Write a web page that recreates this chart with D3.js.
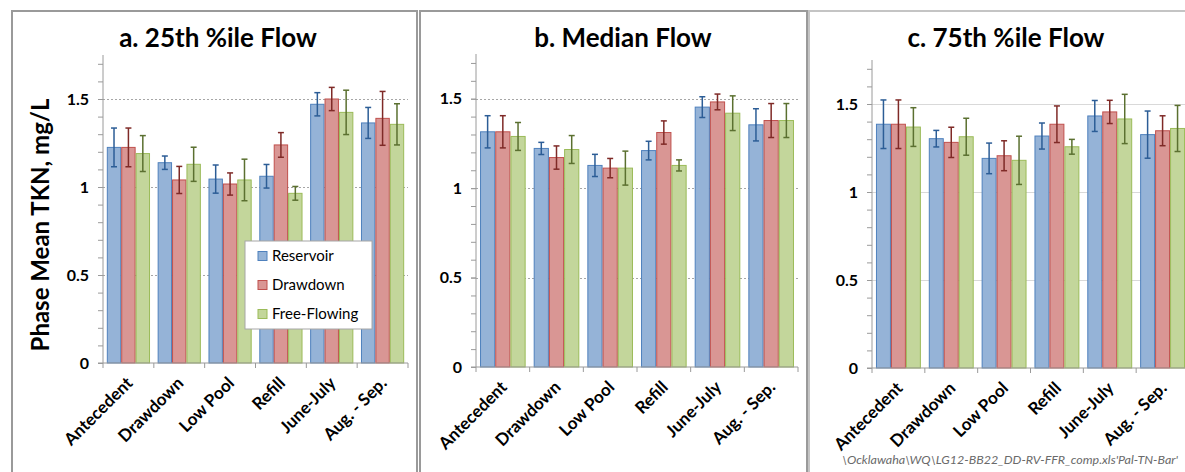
<!DOCTYPE html>
<html>
<head>
<meta charset="utf-8">
<script src="https://cdn.jsdelivr.net/npm/d3@7"></script>
<style>
  body { margin: 0; background: #fff; }
  svg { display: block; font-family: Lato, "Open Sans", sans-serif; }
</style>
</head>
<body>
<div id="d3-container"></div>
<script>
// phases on the x axis and the three flow series
const phases = ["Antecedent", "Drawdown", "Low Pool", "Refill", "June-July", "Aug. - Sep."];
const series = ["Reservoir", "Drawdown", "Free-Flowing"];

// a. 25th %ile flow - means and error half widths
const p25Reservoir = [1.225, 1.138, 1.045, 1.061, 1.470, 1.364];
const p25Drawdown = [1.225, 1.040, 1.017, 1.239, 1.500, 1.390];
const p25Free = [1.190, 1.129, 1.040, 0.964, 1.424, 1.356];
const p25ErrReservoir = [0.110, 0.038, 0.080, 0.067, 0.066, 0.088];
const p25ErrDrawdown = [0.110, 0.077, 0.063, 0.070, 0.066, 0.153];
const p25ErrFree = [0.102, 0.097, 0.118, 0.039, 0.126, 0.117];

// b. median flow
const medReservoir = [1.315, 1.222, 1.127, 1.210, 1.453, 1.354];
const medDrawdown = [1.315, 1.171, 1.112, 1.311, 1.482, 1.378];
const medFree = [1.289, 1.216, 1.112, 1.127, 1.419, 1.378];
const medErrReservoir = [0.090, 0.034, 0.062, 0.052, 0.058, 0.090];
const medErrDrawdown = [0.090, 0.065, 0.054, 0.065, 0.044, 0.095];
const medErrFree = [0.078, 0.078, 0.095, 0.031, 0.097, 0.095];

// c. 75th %ile flow
const p75Reservoir = [1.385, 1.303, 1.191, 1.318, 1.432, 1.326];
const p75Drawdown = [1.385, 1.282, 1.206, 1.385, 1.455, 1.348];
const p75Free = [1.369, 1.314, 1.180, 1.257, 1.415, 1.361];
const p75ErrReservoir = [0.138, 0.047, 0.087, 0.074, 0.088, 0.134];
const p75ErrDrawdown = [0.138, 0.086, 0.085, 0.104, 0.066, 0.085];
const p75ErrFree = [0.110, 0.105, 0.137, 0.042, 0.140, 0.131];

const yTicks = [0, 0.5, 1, 1.5];
const yMax = 1.75;

const fills = ["#95b3d7", "#d99694", "#c3d69b"];
const strokes = ["#4f81bd", "#c0504d", "#9bbb59"];
const errColors = ["#2c5d96", "#7f2a27", "#5b7030"];

const width = 1185;
const height = 472;

const panels = [
  { title: "a. 25th %ile Flow", box: [12, 11, 417], plot: { left: 103, right: 408, top: 55, bottom: 363 }, titleX: 218,
    values: [p25Reservoir, p25Drawdown, p25Free], errs: [p25ErrReservoir, p25ErrDrawdown, p25ErrFree], dotted: true, border: "#9a9a9a" },
  { title: "b. Median Flow", box: [420, 11, 807], plot: { left: 476, right: 798, top: 54, bottom: 367 }, titleX: 623,
    values: [medReservoir, medDrawdown, medFree], errs: [medErrReservoir, medErrDrawdown, medErrFree], dotted: true, border: "#9a9a9a" },
  { title: "c. 75th %ile Flow", box: [809, 11, 1200], plot: { left: 872, right: 1189, top: 60, bottom: 368 }, titleX: 1006,
    values: [p75Reservoir, p75Drawdown, p75Free], errs: [p75ErrReservoir, p75ErrDrawdown, p75ErrFree], dotted: false, border: "#c4c4c4" }
];

const svg = d3.select("#d3-container")
  .append("svg")
  .attr("width", width)
  .attr("height", height);

panels.forEach(p => {
  const g = svg.append("g");

  // panel frame
  g.append("path")
    .attr("d", `M${p.box[0]},${height + 5}V${p.box[1]}H${p.box[2]}V${height + 5}`)
    .attr("fill", "none")
    .attr("stroke", p.border)
    .attr("stroke-width", 2);

  const x = d3.scaleBand()
    .domain(phases)
    .range([p.plot.left, p.plot.right])
    .paddingInner(0.15)
    .paddingOuter(0.075);

  const xs = d3.scaleBand()
    .domain(series)
    .range([0, x.bandwidth()]);

  const y = d3.scaleLinear()
    .domain([0, yMax])
    .range([p.plot.bottom, p.plot.top]);

  // gridlines
  g.append("g")
    .selectAll("line")
    .data(yTicks.filter(d => d > 0))
    .join("line")
    .attr("x1", p.plot.left)
    .attr("x2", p.plot.right)
    .attr("y1", d => Math.round(y(d)) + 0.5)
    .attr("y2", d => Math.round(y(d)) + 0.5)
    .attr("stroke", p.dotted ? "#a6a6a6" : "#d9d9d9")
    .attr("stroke-width", 1)
    .attr("stroke-dasharray", p.dotted ? "2,2" : null);

  // y axis, minor ticks every 0.1
  const yAxis = g.append("g")
    .attr("transform", `translate(${p.plot.left},0)`)
    .call(d3.axisLeft(y).tickValues(d3.range(1, 18).map(i => i / 10)).tickSize(5).tickFormat(""));
  yAxis.select(".domain").remove();
  yAxis.selectAll("line").attr("stroke", "#9a9a9a");

  const yAxisMajor = g.append("g")
    .attr("transform", `translate(${p.plot.left},0)`)
    .call(d3.axisLeft(y).tickValues(yTicks).tickSize(5).tickPadding(9).tickFormat(d => d));
  yAxisMajor.select(".domain").attr("d", `M0,${p.plot.top}V${p.plot.bottom}`).attr("stroke", "#9a9a9a");
  yAxisMajor.selectAll("line").attr("stroke", "#9a9a9a");
  yAxisMajor.selectAll("text")
    .attr("font-family", "Lato, sans-serif")
    .attr("font-size", 16)
    .attr("font-weight", "bold")
    .attr("fill", "#000");

  // bars
  const groups = g.append("g")
    .selectAll("g")
    .data(phases)
    .join("g")
    .attr("transform", d => `translate(${x(d)},0)`);

  series.forEach((s, si) => {
    groups.append("rect")
      .attr("x", xs(s) + 0.5)
      .attr("y", (d, i) => y(p.values[si][i]))
      .attr("width", xs.bandwidth() - 1)
      .attr("height", (d, i) => y(0) - y(p.values[si][i]))
      .attr("fill", fills[si])
      .attr("stroke", strokes[si])
      .attr("stroke-width", 1);
  });

  // error bars
  series.forEach((s, si) => {
    const cx = xs(s) + xs.bandwidth() / 2;
    const eb = groups.append("g")
      .attr("stroke", errColors[si])
      .attr("stroke-width", 1.5);
    eb.append("line")
      .attr("x1", cx).attr("x2", cx)
      .attr("y1", (d, i) => y(p.values[si][i] + p.errs[si][i]))
      .attr("y2", (d, i) => y(p.values[si][i] - p.errs[si][i]));
    eb.append("line")
      .attr("x1", cx - 3).attr("x2", cx + 3)
      .attr("y1", (d, i) => y(p.values[si][i] + p.errs[si][i]))
      .attr("y2", (d, i) => y(p.values[si][i] + p.errs[si][i]));
    eb.append("line")
      .attr("x1", cx - 3).attr("x2", cx + 3)
      .attr("y1", (d, i) => y(p.values[si][i] - p.errs[si][i]))
      .attr("y2", (d, i) => y(p.values[si][i] - p.errs[si][i]));
  });

  // x axis with ticks between categories
  const xAxis = g.append("g")
    .attr("transform", `translate(0,${p.plot.bottom})`);
  xAxis.append("line")
    .attr("x1", p.plot.left - 5).attr("x2", p.plot.right)
    .attr("stroke", "#9a9a9a");
  xAxis.selectAll(".tick")
    .data(d3.range(phases.length + 1))
    .join("line")
    .attr("class", "tick")
    .attr("x1", i => p.plot.left + i * x.step())
    .attr("x2", i => p.plot.left + i * x.step())
    .attr("y1", 0).attr("y2", 5)
    .attr("stroke", "#9a9a9a");
  xAxis.selectAll("text")
    .data(phases)
    .join("text")
    .attr("transform", d => `translate(${x(d) + x.bandwidth() / 2 + 1},${17}) rotate(-45)`)
    .attr("text-anchor", "end")
    .attr("dy", "0.35em")
    .attr("font-size", 17)
    .attr("font-weight", "bold")
    .attr("fill", "#000")
    .text(d => d);

  // title
  g.append("text")
    .attr("x", p.titleX)
    .attr("y", 47)
    .attr("text-anchor", "middle")
    .attr("font-size", 26)
    .attr("font-weight", "bold")
    .attr("fill", "#000")
    .text(p.title);
});

// y axis title on the first panel
svg.append("text")
  .attr("transform", "translate(49,225) rotate(-90)")
  .attr("text-anchor", "middle")
  .attr("font-size", 24)
  .attr("font-weight", "bold")
  .attr("fill", "#000")
  .text("Phase Mean TKN, mg/L");

// legend
const legend = svg.append("g").attr("transform", "translate(245,241)");
legend.append("rect")
  .attr("width", 127).attr("height", 88)
  .attr("fill", "#fff")
  .attr("stroke", "#a6a6a6");
series.forEach((s, si) => {
  const row = legend.append("g").attr("transform", `translate(13,${15 + si * 29})`);
  row.append("rect")
    .attr("x", 0).attr("y", -4.5)
    .attr("width", 9).attr("height", 9)
    .attr("fill", fills[si])
    .attr("stroke", strokes[si]);
  row.append("text")
    .attr("x", 14)
    .attr("dy", "0.35em")
    .attr("font-size", 15)
    .attr("fill", "#000")
    .text(s);
});

// source path at the bottom of panel c
svg.append("text")
  .attr("x", 842)
  .attr("y", 464)
  .attr("font-size", 12)
  .attr("font-style", "italic")
  .attr("fill", "#6a6a6a")
  .attr("textLength", 336)
  .attr("lengthAdjust", "spacingAndGlyphs")
  .text("\\Ocklawaha\\WQ\\LG12-BB22_DD-RV-FFR_comp.xls'Pal-TN-Bar'");
</script>
</body>
</html>
